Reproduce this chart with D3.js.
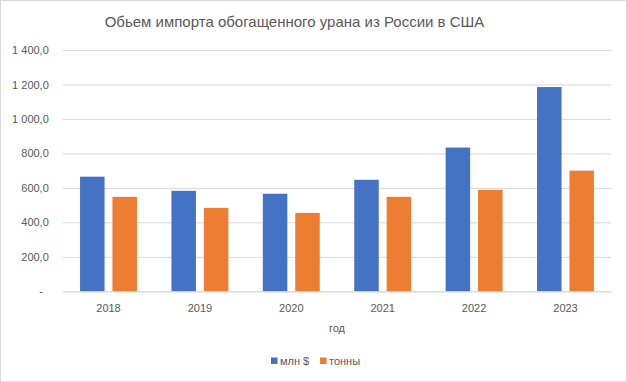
<!DOCTYPE html>
<html>
<head>
<meta charset="utf-8">
<script src="https://cdn.jsdelivr.net/npm/d3@7"></script>
<style>
  body { margin: 0; background: #fff; }
  svg { display: block; font-family: "Liberation Sans", Arial, sans-serif; }
</style>
</head>
<body>
<svg id="chart" width="627" height="382"></svg>
<script>
const years = ["2018", "2019", "2020", "2021", "2022", "2023"];
const seriesNames = ["млн $", "тонны"];
const usdMillions = [665, 583, 566, 647, 834, 1185];
const tonnes = [548, 484, 455, 548, 589, 700];
const yTicks = [0, 200, 400, 600, 800, 1000, 1200, 1400];
const colors = ["#4472C4", "#ED7D31"];
const title = "Обьем импорта обогащенного урана из России в США";
const xTitle = "год";

const svg = d3.select("#chart");
const W = 627, H = 382;
const plot = { left: 62.8, right: 611.2, top: 50, bottom: 291.3 };

svg.append("rect").attr("x", 0.5).attr("y", 0.5).attr("width", W - 1).attr("height", H - 1)
  .attr("fill", "#fff").attr("stroke", "#d9d9d9");

const x = d3.scaleBand().domain(years).range([plot.left, plot.right]).paddingInner(0).paddingOuter(0);
const xs = d3.scaleBand().domain(seriesNames).range([0, x.bandwidth()]).paddingInner(0.244).paddingOuter(0.532);
const y = d3.scaleLinear().domain([0, 1400]).range([plot.bottom, plot.top]);

const ruLocale = d3.formatLocale({ decimal: ",", thousands: "\u00a0", grouping: [3], currency: ["", ""] });
const fmt = ruLocale.format(",.1f");

const yAxis = d3.axisLeft(y).tickValues(yTicks).tickSize(-(plot.right - plot.left))
  .tickFormat(d => d === 0 ? "" : fmt(d)).tickPadding(14);
const gy = svg.append("g").attr("transform", `translate(${plot.left},0)`).call(yAxis);
gy.select(".domain").remove();
gy.selectAll(".tick line").attr("stroke", "#d9d9d9").attr("stroke-width", 1);
gy.selectAll(".tick text").attr("fill", "#595959").attr("font-size", 11)
  .attr("font-family", "Liberation Sans, Arial, sans-serif");
gy.selectAll(".tick").filter(d => d === 0).select("text").text("-").attr("x", -20);

const data = years.map((yr, i) => ({ year: yr, values: [usdMillions[i], tonnes[i]] }));
const groups = svg.append("g").selectAll("g").data(data).join("g")
  .attr("transform", d => `translate(${x(d.year)},0)`);
groups.selectAll("rect").data(d => d.values.map((v, j) => ({ key: seriesNames[j], v, j })))
  .join("rect")
  .attr("x", d => xs(d.key))
  .attr("width", xs.bandwidth())
  .attr("y", d => y(d.v))
  .attr("height", d => y(0) - y(d.v))
  .attr("fill", d => colors[d.j]);

const xAxis = d3.axisBottom(x).tickSize(0).tickPadding(13);
const gx = svg.append("g").attr("transform", `translate(0,${plot.bottom})`).call(xAxis);
gx.select(".domain").attr("stroke", "#d9d9d9");
gx.selectAll(".tick text").attr("fill", "#595959").attr("font-size", 11)
  .attr("font-family", "Liberation Sans, Arial, sans-serif");

svg.append("text").attr("x", 294.5).attr("y", 27).attr("text-anchor", "middle")
  .attr("fill", "#595959").attr("font-size", 15).text(title);

svg.append("text").attr("x", (plot.left + plot.right) / 2).attr("y", 331.5).attr("text-anchor", "middle")
  .attr("fill", "#595959").attr("font-size", 11).text(xTitle);

const legendItems = [{ name: seriesNames[0], x: 271, c: colors[0] }, { name: seriesNames[1], x: 320, c: colors[1] }];
const lg = svg.append("g");
lg.selectAll("rect").data(legendItems).join("rect")
  .attr("x", d => d.x).attr("y", 357.5).attr("width", 6.5).attr("height", 6.5).attr("fill", d => d.c);
lg.selectAll("text").data(legendItems).join("text")
  .attr("x", d => d.x + 9).attr("y", 364.5).attr("fill", "#595959").attr("font-size", 11)
  .text(d => d.name);
</script>
</body>
</html>
